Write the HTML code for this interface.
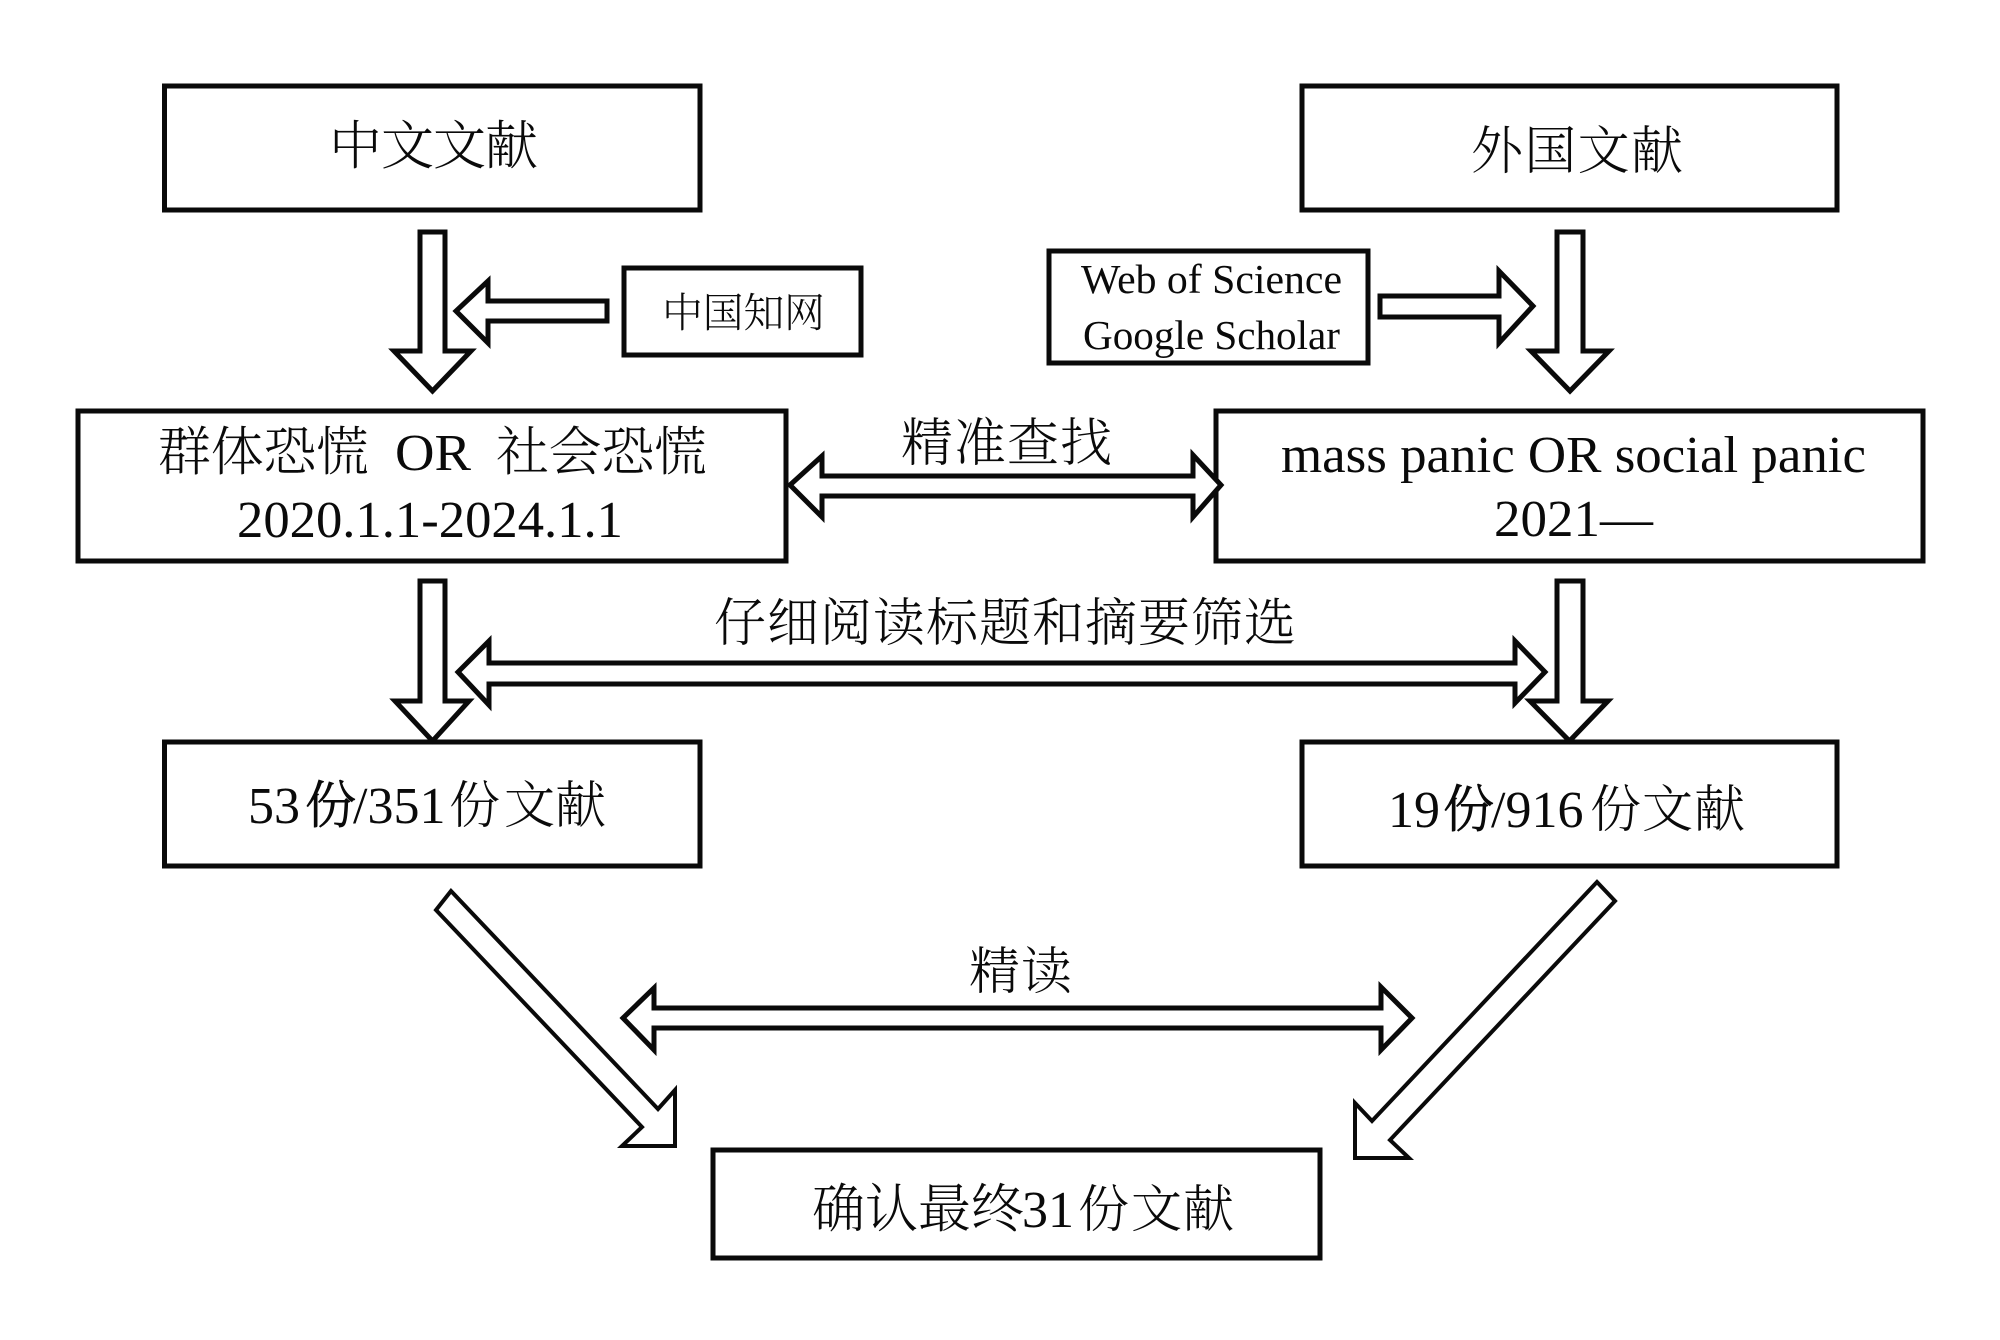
<!DOCTYPE html>
<html lang="zh">
<head>
<meta charset="utf-8">
<title>文献筛选流程图</title>
<style>
html,body{margin:0;padding:0;background:#fff;width:2000px;height:1340px;overflow:hidden}
svg{display:block}
.b{fill:#fff;stroke:#0a0a0a;stroke-width:5}
.a{fill:#fff;stroke:#0a0a0a;stroke-width:5;stroke-linejoin:miter;stroke-miterlimit:6}
.d{fill:#fff;stroke:#0a0a0a;stroke-width:4;stroke-linejoin:miter;stroke-miterlimit:6}
text{fill:#0a0a0a;font-family:"Liberation Serif","Noto Serif CJK SC",serif;}
.c{font-family:"Noto Serif CJK SC","Liberation Serif",serif;font-weight:300}
.h{stroke:#0a0a0a;stroke-width:.9}
</style>
</head>
<body>
<svg width="2000" height="1340" viewBox="0 0 2000 1340" xmlns="http://www.w3.org/2000/svg">
<rect width="2000" height="1340" fill="#fff"/>

<!-- boxes -->
<rect class="b" x="164.500" y="86" width="535.500" height="124"/>
<rect class="b" x="1302" y="86" width="535" height="124"/>
<rect class="b" x="624" y="268" width="237" height="87"/>
<rect class="b" x="1049" y="251" width="319" height="112"/>
<rect class="b" x="78" y="411" width="708" height="150"/>
<rect class="b" x="1216" y="411" width="707" height="150"/>
<rect class="b" x="164.500" y="742" width="535.500" height="124"/>
<rect class="b" x="1302" y="742" width="535" height="124"/>
<rect class="b" x="713" y="1150" width="607" height="108"/>

<!-- vertical arrows -->
<polygon class="a" points="420,232 445,232 445,351 471,351 432.500,391 394,351 420,351"/>
<polygon class="a" points="1557,232 1583,232 1583,351 1609,351 1570,391 1531,351 1557,351"/>
<polygon class="a" points="420,581 445,581 445,701 469,701 432.500,741 395,701 420,701"/>
<polygon class="a" points="1557,581 1583,581 1583,701 1608,701 1569.500,741 1530,701 1557,701"/>

<!-- side arrows -->
<polygon class="a" points="607,301 488,301 488,281 456,311 488,343 488,321 607,321"/>
<polygon class="a" points="1380,296 1499,296 1499,271 1533,306 1499,343 1499,317 1380,317"/>

<!-- double arrows -->
<polygon class="a" points="822,476 1193,476 1193,455 1221,485 1193,517 1193,496 822,496 822,517 790,485 822,456"/>
<polygon class="a" points="489,663 1515,663 1515,641 1545,672 1515,703 1515,684 489,684 489,705 458,672 489,641"/>
<polygon class="a" points="654,1008 1381,1008 1381,987 1412,1018 1381,1050 1381,1028 654,1028 654,1050 623,1018 654,988"/>

<!-- diagonal arrows -->
<polygon class="d" points="451,891 658,1109 675,1090 675,1146 622,1146 642,1127 436,910"/>
<polygon class="d" points="1597,882 1372,1121 1355,1103 1355,1158 1409,1158 1390,1140 1615,901"/>

<!-- labels -->
<text class="c" x="329" y="164" font-size="53" textLength="209" lengthAdjust="spacing">中文文献</text>
<text class="c" x="1471" y="169" font-size="52" textLength="212" lengthAdjust="spacing">外国文献</text>
<text class="c" x="662" y="327" font-size="41" textLength="163" lengthAdjust="spacing">中国知网</text>

<text x="1081" y="293" font-size="41" textLength="261" lengthAdjust="spacingAndGlyphs">Web of Science</text>
<text x="1083" y="349" font-size="41" textLength="257" lengthAdjust="spacingAndGlyphs">Google Scholar</text>

<text class="c" x="158" y="470" font-size="53" textLength="211" lengthAdjust="spacing">群体恐慌</text>
<text x="395" y="470" font-size="52" textLength="76" lengthAdjust="spacingAndGlyphs">OR</text>
<text class="c" x="496" y="470" font-size="53" textLength="211" lengthAdjust="spacing">社会恐慌</text>
<text x="237" y="537" font-size="52" textLength="386" lengthAdjust="spacingAndGlyphs">2020.1.1-2024.1.1</text>

<text x="1281" y="472" font-size="52" textLength="585" lengthAdjust="spacingAndGlyphs">mass panic OR social panic</text>
<text x="1494" y="536" font-size="52" textLength="159" lengthAdjust="spacingAndGlyphs">2021—</text>

<text class="c" x="901" y="461" font-size="52" textLength="211" lengthAdjust="spacing">精准查找</text>
<text class="c" x="714" y="641" font-size="52" textLength="582" lengthAdjust="spacing">仔细阅读标题和摘要筛选</text>
<text class="c" x="969" y="989" font-size="51" textLength="103" lengthAdjust="spacing">精读</text>

<text x="248" y="823" font-size="52">53</text>
<text class="c h" x="305" y="823" font-size="51">份</text>
<text x="353" y="823" font-size="52">/351</text>
<text class="c" x="449" y="823" font-size="51">份</text>
<text class="c" x="504" y="823" font-size="51">文</text>
<text class="c" x="555" y="823" font-size="51">献</text>

<text x="1388" y="827" font-size="52">19</text>
<text class="c h" x="1443" y="827" font-size="51">份</text>
<text x="1491" y="827" font-size="52">/916</text>
<text class="c" x="1590" y="827" font-size="51">份</text>
<text class="c" x="1642" y="827" font-size="51">文</text>
<text class="c" x="1694" y="827" font-size="51">献</text>

<text class="c" x="812" y="1227" font-size="53" textLength="212" lengthAdjust="spacing">确认最终</text>
<text x="1022" y="1227" font-size="52">31</text>
<text class="c" x="1078" y="1227" font-size="51">份</text>
<text class="c" x="1131" y="1227" font-size="51">文</text>
<text class="c" x="1183" y="1227" font-size="51">献</text>
</svg>
</body>
</html>
